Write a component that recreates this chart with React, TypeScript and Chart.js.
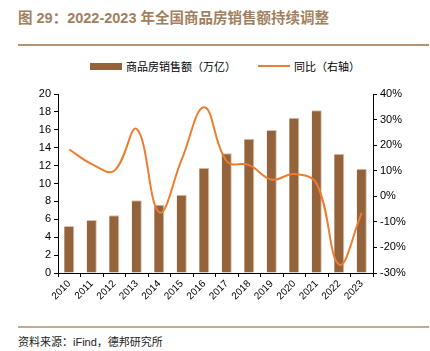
import React, { useEffect, useRef } from "react";
import { Chart, registerables } from "chart.js";
Chart.register(...registerables);

const years = ["2010","2011","2012","2013","2014","2015","2016","2017","2018","2019","2020","2021","2022","2023"];
const sales = [5.25, 5.91, 6.45, 8.14, 7.63, 8.73, 11.76, 13.37, 15.0, 15.97, 17.36, 18.19, 13.33, 11.66];
const yoy = [18.3, 12.6, 10.0, 26.3, -6.3, 14.4, 34.8, 13.7, 12.2, 6.5, 8.7, 4.8, -26.7, -6.5];

const FONT = '"Liberation Sans", Arial, "Noto Sans CJK SC", sans-serif';
const BAR = "#94623b";
const LINE = "#ed7d31";

export default function App() {
  const ref = useRef<HTMLCanvasElement>(null);
  useEffect(() => {
    const ctx = ref.current!;
    const chart = new Chart(ctx, {
      type: "bar",
      data: {
        labels: years,
        datasets: [
          {
            type: "line",
            label: "同比（右轴）",
            data: yoy,
            yAxisID: "y1",
            borderColor: LINE,
            backgroundColor: LINE,
            borderWidth: 2,
            pointRadius: 0,
            tension: 0.4,
            order: 0,
          },
          {
            type: "bar",
            label: "商品房销售额（万亿）",
            data: sales,
            yAxisID: "y",
            backgroundColor: BAR,
            borderColor: "#d9c3ae",
            borderWidth: { top: 1, right: 1, left: 0, bottom: 0 },
            borderSkipped: false,
            categoryPercentage: 1,
            barPercentage: 0.45,
            order: 1,
          },
        ],
      },
      options: {
        animation: false,
        responsive: false,
        layout: { padding: { top: 10, left: 0, right: 0, bottom: 0 } },
        plugins: { legend: { display: false }, tooltip: { enabled: false } },
        scales: {
          x: {
            grid: { display: true, drawOnChartArea: false, tickLength: 4, color: "#000", offset: true },
            border: { color: "#000" },
            ticks: { font: { family: FONT, size: 10 }, color: "#000", maxRotation: 45, minRotation: 45, padding: 1, autoSkip: false },
            afterFit: (s: any) => { s.height = 42; },
          },
          y: {
            position: "left",
            min: 0,
            max: 20,
            grid: { display: true, drawOnChartArea: false, tickLength: 4, color: "#000" },
            border: { color: "#000" },
            ticks: { stepSize: 2, font: { family: FONT, size: 11 }, color: "#000", padding: 3 },
            afterFit: (s: any) => { s.width = 58; },
          },
          y1: {
            position: "right",
            min: -30,
            max: 40,
            grid: { display: true, drawOnChartArea: false, tickLength: 4, color: "#000" },
            border: { color: "#000" },
            ticks: { stepSize: 10, font: { family: FONT, size: 11 }, color: "#000", padding: 3, callback: (v: any) => v + "%" },
            afterFit: (s: any) => { s.width = 57; },
          },
        },
      },
    });
    return () => chart.destroy();
  }, []);

  return (
    <div style={{ position: "fixed", left: 0, top: 0, width: 430, height: 351, background: "#fff", fontFamily: FONT }}>
      <div style={{ position: "absolute", left: 18, top: 6, fontSize: 14.5, fontWeight: "bold", color: "#a27f5e", fontFamily: '"Liberation Sans", "Noto Sans CJK SC", sans-serif', whiteSpace: "nowrap" }}>
        图 29：2022-2023 年全国商品房销售额持续调整
      </div>
      <div style={{ position: "absolute", left: 18, top: 44, width: 411, height: 2, background: "#b39479" }} />
      <div style={{ position: "absolute", left: 90, top: 63, width: 32, height: 7, background: BAR }} />
      <div style={{ position: "absolute", left: 126, top: 58, fontSize: 11, color: "#000", fontFamily: '"Noto Sans CJK SC", sans-serif', whiteSpace: "nowrap" }}>商品房销售额（万亿）</div>
      <div style={{ position: "absolute", left: 258, top: 65, width: 32, height: 2, background: LINE }} />
      <div style={{ position: "absolute", left: 294, top: 58, fontSize: 11, color: "#000", fontFamily: '"Noto Sans CJK SC", sans-serif', whiteSpace: "nowrap" }}>同比（右轴）</div>
      <canvas ref={ref} width={430} height={231} style={{ position: "absolute", left: 0, top: 84, width: 430, height: 231 }} />
      <div style={{ position: "absolute", left: 18, top: 326, width: 411, height: 1.5, background: "#c9a88a" }} />
      <div style={{ position: "absolute", left: 18, top: 333, fontSize: 11, color: "#222", fontFamily: '"Liberation Sans", "Noto Sans CJK SC", sans-serif', whiteSpace: "nowrap" }}>资料来源：iFind，德邦研究所</div>
    </div>
  );
}
